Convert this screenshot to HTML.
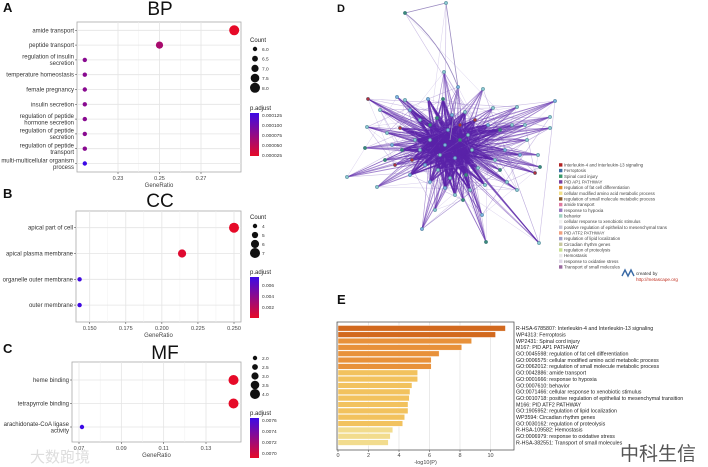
<!DOCTYPE html>
<html><head><meta charset="utf-8"><style>
html,body{margin:0;padding:0;background:#fff;width:708px;height:467px;overflow:hidden}
svg{display:block;font-family:"Liberation Sans","Noto Sans CJK SC",sans-serif}
</style></head><body>
<svg id="fig" width="708" height="467" viewBox="0 0 708 467"></svg>
<script>
// ===== Panel A (BP) data =====
const bpTerms=["amide transport","peptide transport","regulation of insulin|secretion","temperature homeostasis","female pregnancy","insulin secretion","regulation of peptide|hormone secretion","regulation of peptide|secretion","regulation of peptide|transport","multi-multicellular organism|process"];
const bpRatio=[0.286,0.25,0.214,0.214,0.214,0.214,0.214,0.214,0.214,0.214];
const bpCount=[8,7,6,6,6,6,6,6,6,6];
const bpPadj=[0.00002,0.00006,0.00008,0.00008,0.00008,0.00008,0.00008,0.00008,0.00008,0.00013];
const bpTicks=[0.23,0.25,0.27];
const bpCountLeg=["6.0","6.5","7.0","7.5","8.0"];
const bpPLeg=["0.000125","0.000100","0.000075","0.000050","0.000025"];
// ===== Panel B (CC) data =====
const ccTerms=["apical part of cell","apical plasma membrane","organelle outer membrane","outer membrane"];
const ccRatio=[0.25,0.214,0.143,0.143];
const ccCount=[7,6,4,4];
const ccPadj=[0.0002,0.0005,0.0068,0.0068];
const ccTicks=[0.15,0.175,0.2,0.225,0.25];
const ccCountLeg=["4","5","6","7"];
const ccPLeg=["0.006","0.004","0.002"];
// ===== Panel C (MF) data =====
const mfTerms=["heme binding","tetrapyrrole binding","arachidonate-CoA ligase|activity"];
const mfRatio=[0.143,0.143,0.0714];
const mfCount=[4,4,2];
const mfPadj=[0.0069,0.0069,0.0077];
const mfTicks=[0.07,0.09,0.11,0.13];
const mfCountLeg=["2.0","2.5","3.0","3.5","4.0"];
const mfPLeg=["0.0076","0.0074","0.0072","0.0070"];
// ===== Panel E data =====
const eTerms=["R-HSA-6785807: Interleukin-4 and Interleukin-13 signaling","WP4313: Ferroptosis","WP2431: Spinal cord injury","M167: PID AP1 PATHWAY","GO:0045598: regulation of fat cell differentiation","GO:0006575: cellular modified amino acid metabolic process","GO:0062012: regulation of small molecule metabolic process","GO:0042886: amide transport","GO:0001666: response to hypoxia","GO:0007610: behavior","GO:0071466: cellular response to xenobiotic stimulus","GO:0010718: positive regulation of epithelial to mesenchymal transition","M166: PID ATF2 PATHWAY","GO:1905952: regulation of lipid localization","WP3594: Circadian rhythm genes","GO:0030162: regulation of proteolysis","R-HSA-109582: Hemostasis","GO:0006979: response to oxidative stress","R-HSA-382551: Transport of small molecules"];
const eVals=[10.98,10.33,8.76,8.11,6.63,6.11,6.11,5.22,5.22,4.85,4.72,4.67,4.59,4.59,4.37,4.24,3.59,3.43,3.30];
const eTicks=[0,2,4,6,8,10];
// ===== Panel D legend =====
const dLegend=["Interleukin-4 and Interleukin-13 signaling","Ferroptosis","Spinal cord injury","PID AP1 PATHWAY","regulation of fat cell differentiation","cellular modified amino acid metabolic process","regulation of small molecule metabolic process","amide transport","response to hypoxia","behavior","cellular response to xenobiotic stimulus","positive regulation of epithelial to mesenchymal trans","PID ATF2 PATHWAY","regulation of lipid localization","Circadian rhythm genes","regulation of proteolysis","Hemostasis","response to oxidative stress","Transport of small molecules"];
const dLegColors=["#b22222","#3a6ea5","#3a9a6a","#7b3f9e","#e08a2a","#f2e08a","#8a5a2a","#e07aa0","#9a7ac0","#a0d0c0","#f0f0f0","#c8c8d8","#f0a080","#a0a0c8","#c8c8a0","#c8e090","#e8e8e8","#e0d8e8","#9a6aa0"];

const NS="http://www.w3.org/2000/svg";
const svg=document.getElementById('fig');
function el(tag,attrs,parent,text){const e=document.createElementNS(NS,tag);for(const k in attrs)e.setAttribute(k,attrs[k]);if(text!==undefined)e.textContent=text;(parent||svg).appendChild(e);return e;}
function txt(x,y,s,size,anchor,parent,name,fill,weight){const t=el('text',{x:x,y:y,'font-size':size,'text-anchor':anchor||'start',fill:fill||'#333','font-weight':weight||'normal'},parent,s);return t;}
function lerpColor(t){t=Math.max(0,Math.min(1,t));const r=Math.round(230+(60-230)*t),g=Math.round(10+(10-10)*t),b=Math.round(40+(230-40)*t);return `rgb(${r},${g},${b})`;}

function dotPanel(o){
  const g=el('g',{});
  txt(o.labX,o.labY,o.letter,13,'start',g,'panel-letter','#111','bold');
  txt(o.titleX,o.titleY,o.title,19,'middle',g,'panel-title','#111');
  const plot=el('rect',{x:o.x0,y:o.y0,width:o.x1-o.x0,height:o.y1-o.y0,fill:'#fff',stroke:'#aaa','stroke-width':0.8},g);
  
  const xs=v=>o.px0+(v-o.v0)/(o.v1-o.v0)*(o.px1-o.px0);
  const n=o.terms.length;const ys=i=>o.rowY0+i*o.rowStep;
  for(let k=0;k<o.ticks.length;k++){const x=xs(o.ticks[k]);
    el('line',{x1:x,x2:x,y1:o.y0,y2:o.y1,stroke:'#e4e4e4','stroke-width':0.8},g);
    if(k<o.ticks.length-1){const xm=(x+xs(o.ticks[k+1]))/2;el('line',{x1:xm,x2:xm,y1:o.y0,y2:o.y1,stroke:'#f0f0f0','stroke-width':0.5},g);}
    el('line',{x1:x,x2:x,y1:o.y1,y2:o.y1+2,stroke:'#555','stroke-width':0.6},g);
    txt(x,o.y1+8,o.tickFmt(o.ticks[k]),5.5,'middle',g,'x-tick-label','#444');}
  txt((o.x0+o.x1)/2,o.y1+15,'GeneRatio',6,'middle',g,'x-axis-title','#444');
  const cmin=Math.min(...o.legCounts),cmax=Math.max(...o.legCounts);
  const rs=c=>2.2+(c-cmin)/(cmax-cmin)*2.8;
  for(let i=0;i<n;i++){const y=ys(i);
    el('line',{x1:o.x0,x2:o.x1,y1:y,y2:y,stroke:'#e4e4e4','stroke-width':0.8},g);
    el('line',{x1:o.x0-2,x2:o.x0,y1:y,y2:y,stroke:'#555','stroke-width':0.6},g);
    const parts=o.terms[i].split('|');
    parts.forEach((p,j)=>txt(o.x0-3,y+2+(j-(parts.length-1)/2)*6.5,p,6,'end',g,'y-tick-label','#333'));}
  for(let i=0;i<n;i++){
    const c=el('circle',{cx:xs(o.ratio[i]),cy:ys(i),r:rs(o.count[i]),fill:lerpColor((o.padj[i]-o.pmin)/(o.pmax-o.pmin))},g);
    
    }
  if(o.countTitleY)txt(o.legX,o.countTitleY,'Count',6,'start',g,'count-legend-title','#222');
  o.countLeg.forEach((s,k)=>{const y=o.countY0+k*o.countStep;
    const c=el('circle',{cx:o.legX+5,cy:y,r:rs(o.legCounts[k]),fill:'#111'},g);
    
    txt(o.legX+12,y+2,s,4.8,'start',g,'count-legend-label','#333');});
  txt(o.legX,o.pTitleY,'p.adjust',6,'start',g,'padj-legend-title','#222');
  const gid='grad'+o.letter;
  const defs=el('defs',{},g);const lg=el('linearGradient',{id:gid,x1:0,y1:0,x2:0,y2:1},defs);
  el('stop',{offset:'0','stop-color':lerpColor(1)},lg);el('stop',{offset:'0.5','stop-color':lerpColor(0.5)},lg);el('stop',{offset:'1','stop-color':lerpColor(0)},lg);
  const cb=el('rect',{x:o.legX,y:o.barY0,width:9,height:o.barY1-o.barY0,fill:`url(#${gid})`},g);
  
  o.pLeg.forEach((s,k)=>{const y=o.pLabY0+k*o.pLabStep;txt(o.legX+12,y+2,s,4.8,'start',g,'padj-legend-label','#333');});
}
dotPanel({name:'panel-a-bp',letter:'A',title:'BP',labX:3,labY:12,titleX:160,titleY:15,x0:77,x1:241,y0:22,y1:172,
  px0:118,px1:201,v0:0.23,v1:0.27,rowY0:30.3,rowStep:14.8,terms:bpTerms,ratio:bpRatio,count:bpCount,padj:bpPadj,pmin:0.00002,pmax:0.00013,
  ticks:bpTicks,tickFmt:v=>v.toFixed(2),legX:250,countTitleY:42,countLeg:bpCountLeg,legCounts:[6,6.5,7,7.5,8],countY0:49,countStep:9.7,
  pTitleY:110,barY0:113,barY1:156,pLeg:bpPLeg,pLabY0:115,pLabStep:10});
dotPanel({name:'panel-b-cc',letter:'B',title:'CC',labX:3,labY:198,titleX:160,titleY:207,x0:76,x1:241,y0:211,y1:322,
  px0:89.7,px1:234,v0:0.15,v1:0.25,rowY0:227.7,rowStep:25.8,terms:ccTerms,ratio:ccRatio,count:ccCount,padj:ccPadj,pmin:0.0002,pmax:0.007,
  ticks:ccTicks,tickFmt:v=>v.toFixed(3),legX:250,countTitleY:219,countLeg:ccCountLeg,legCounts:[4,5,6,7],countY0:226,countStep:9,
  pTitleY:274,barY0:277,barY1:318,pLeg:ccPLeg,pLabY0:285,pLabStep:11});
dotPanel({name:'panel-c-mf',letter:'C',title:'MF',labX:3,labY:353,titleX:165,titleY:359,x0:72,x1:241,y0:362,y1:442,
  px0:79,px1:206,v0:0.07,v1:0.13,rowY0:380,rowStep:23.5,terms:mfTerms,ratio:mfRatio,count:mfCount,padj:mfPadj,pmin:0.0069,pmax:0.0077,
  ticks:mfTicks,tickFmt:v=>v.toFixed(2),legX:250,countTitleY:0,countLeg:mfCountLeg,legCounts:[2,2.5,3,3.5,4],countY0:358,countStep:9,
  pTitleY:415,barY0:418,barY1:458,pLeg:mfPLeg,pLabY0:420,pLabStep:11});
txt(30,462,'大数跑境',15,'start',svg,'watermark-left','#ddd');

// ===== Panel E =====
{const g=el('g',{});
 txt(337,304,'E',13,'start',g,'panel-letter','#111','bold');
 const x0=337,x1=514,y0=322,y1=450,px0=338,unit=15.25;
 const xs=v=>px0+v*unit;
 eTicks.forEach(t=>{el('line',{x1:xs(t),x2:xs(t),y1:y0,y2:y1,stroke:'#ddd','stroke-width':0.6},g);
   el('line',{x1:xs(t),x2:xs(t),y1:y1,y2:y1+2,stroke:'#555','stroke-width':0.6},g);
   txt(xs(t),y1+7,String(t),5.5,'middle',g,'x-tick-label','#444');});
 txt((x0+x1)/2,y1+14,'-log10(P)',5.5,'middle',g,'x-axis-title','#444');
 const step=6.35,bh=5.6,top=325.5;
 eVals.forEach((v,i)=>{const y=top+i*step;
   const col=i<2?'#d2691e':i<7?'#e8913a':i<16?'#f2c25e':'#f2dc8e';
   const b=el('rect',{x:xs(0),y:y,width:xs(v)-xs(0),height:bh,fill:col,stroke:'#fff','stroke-width':0.4},g);
   
   txt(516,y+4.6,eTerms[i],5.3,'start',g,'bar-label','#222');});
 const fr=el('rect',{x:x0,y:y0,width:x1-x0,height:y1-y0,fill:'none',stroke:'#444','stroke-width':0.7},g);
 
 txt(620,460,'中科生信',19,'start',g,'watermark-right','#555');
}

// ===== Panel D network =====
const dNodes=[[405,13],[446,3],[444,72],[458,87],[483,89],[368,99],[397,97],[347,177],[377,187],[422,229],[486,242],[539,243],[555,101],[550,117],[550,128],[540,167],[535,173],[517,190],[482,215],[367,127],[365,148],[430,182],[517,107],[493,108],[428,99],[443,99],[387,133],[400,128],[527,140],[538,155],[463,200],[435,210],[507,182],
 [410,110],[420,120],[437,118],[452,115],[465,112],[475,120],[488,125],[500,130],[512,125],[505,150],[495,160],[478,168],[466,175],[450,178],[438,170],[425,165],[412,160],[402,150],[392,145],[415,140],[430,140],[445,145],[460,140],[472,150],[455,158],[440,155],[420,150],[395,165],[470,190],[455,195],[445,188],[485,185],[500,170],[520,155],[525,125],[380,110],[410,175],[430,125],[460,125],[448,130],[468,135],[405,100],[385,160]];
const dNodeCols=["#8ac8d0","#3a8a7a","#b03040","#7ab0e0"];
{const g=el('g',{});
 txt(337,12,'D',11,'start',g,'panel-letter','#111','bold');
 const hubs=[[450,140],[440,150],[458,148],[447,132],[465,155],[432,138]];
 const eg=el('g',{},g);
 dNodes.forEach((p,i)=>{
   if(i<2)return;
   hubs.forEach((h,k)=>{
     const inner=Math.hypot(p[0]-450,p[1]-145)<55;
     el('line',{x1:p[0],y1:p[1],x2:h[0],y2:h[1],stroke:'#5a22a8','stroke-width':inner?1.5:(k%2?0.6:1.0),'stroke-opacity':inner?0.85:0.55},eg);
   });
   const q=dNodes[(i*7+3)%dNodes.length];
   el('line',{x1:p[0],y1:p[1],x2:q[0],y2:q[1],stroke:'#8a6ac0','stroke-width':0.6,'stroke-opacity':0.45},eg);
   const q2=dNodes[(i*11+5)%dNodes.length];
   el('line',{x1:p[0],y1:p[1],x2:q2[0],y2:q2[1],stroke:'#a08ad0','stroke-width':0.5,'stroke-opacity':0.4},eg);
 });
 el('ellipse',{cx:450,cy:145,rx:30,ry:25,fill:'#5a22a8','fill-opacity':0.35},eg);
 el('path',{d:'M405,13 L446,3 L458,87 M405,13 Q440,40 458,87 L450,140',fill:'none',stroke:'#9a8ac0','stroke-width':0.8},eg);
 dNodes.forEach((p,i)=>{const c=el('circle',{cx:p[0],cy:p[1],r:1.7,fill:dNodeCols[i%11===5?2:(i%5===0?1:(i%3===0?3:0))],stroke:'#3a6a7a','stroke-width':0.4},g);
   });
 dLegend.forEach((s,i)=>{const y=165+i*5.67;
   const r=el('rect',{x:559,y:y-1.8,width:3.4,height:3.4,fill:dLegColors[i]},g);
   
   txt(564,y+1.5,s,4.4,'start',g,'legend-entry','#444');});
 el('path',{d:'M622,276 l3,-6 l3,6 l3,-6 l3,6',fill:'none',stroke:'#3a6aa5','stroke-width':1.4},g);
 txt(636,275,'created by',4.6,'start',g,'credit-text','#333');
 txt(636,281,'http://metascape.org',4.6,'start',g,'credit-link','#c03020');
}
</script>
</body></html>
